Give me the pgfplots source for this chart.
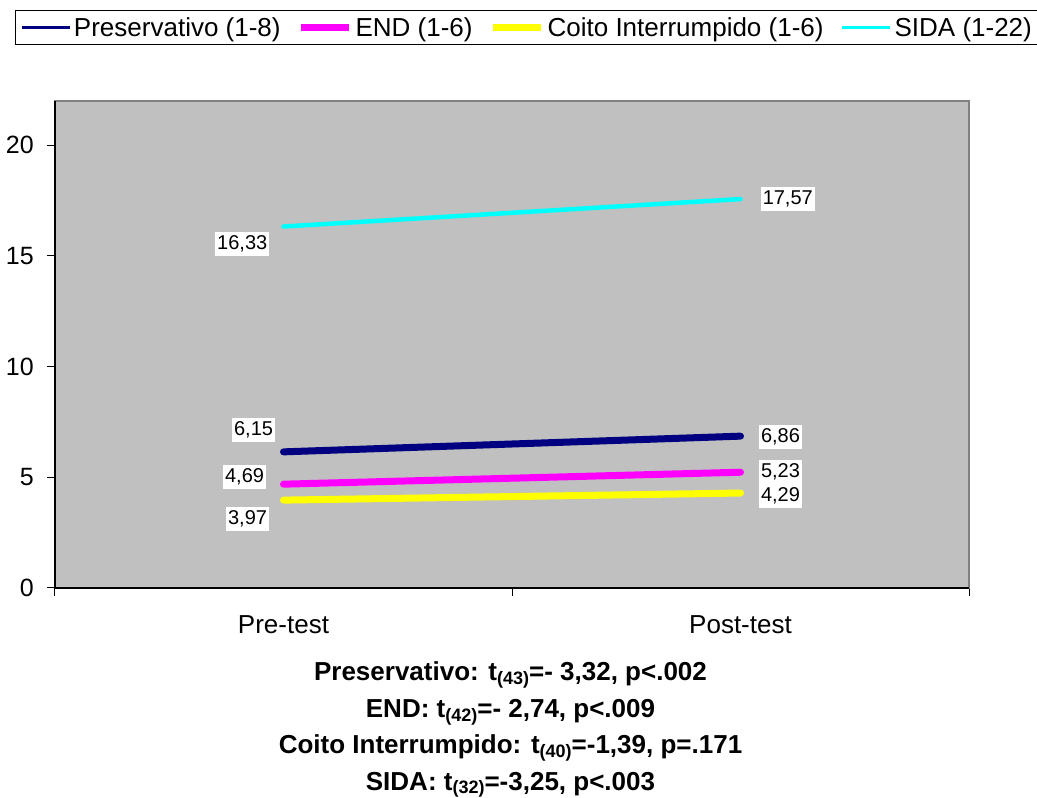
\documentclass[border=0pt]{standalone}
\usepackage{pgfplots}
\pgfplotsset{compat=1.18}
\usepackage{fontspec}
\setmainfont{Liberation Sans}
\definecolor{navyx}{RGB}{0,0,128}
\definecolor{magx}{RGB}{255,0,255}
\definecolor{yelx}{RGB}{255,255,0}
\definecolor{cyanx}{RGB}{0,255,255}
\definecolor{bgx}{RGB}{192,192,192}
\definecolor{brdx}{RGB}{128,128,128}
\newcommand\sub[1]{\raisebox{-3.5pt}{\fontsize{18}{18}\selectfont #1}}
\tikzset{lbl/.style={fill=white, draw=none, text=black, font=\fontsize{20}{24}\selectfont, inner xsep=2pt, inner ysep=4pt}}
\begin{document}
\begin{tikzpicture}
\useasboundingbox (-55pt,-210pt) rectangle (982pt,588pt);
\begin{axis}[
  at={(0pt,0pt)}, anchor=south west,
  width=914pt, height=487pt, scale only axis,
  xmin=0, xmax=2, ymin=0, ymax=22,
  axis background/.style={fill=bgx},
  axis line style={draw=brdx, line width=1.5pt},
  xtick={0,1,2}, xticklabels={},
  extra x ticks={0.5,1.5}, extra x tick labels={Pre-test,Post-test},
  extra x tick style={major tick length=0pt, tick style={draw=none}},
  ytick={0,5,10,15,20},
  xtick pos=bottom, ytick pos=left,
  tick align=outside, major tick length=8pt,
  tick style={black, line width=1pt},
  /pgf/number format/assume math mode=true,
  tick label style={font=\fontsize{25}{30}\selectfont},
  xticklabel style={font=\fontsize{26}{30}\selectfont, inner ysep=0pt, yshift=-27pt},
  yticklabel style={inner xsep=0pt, xshift=-13pt},
  legend columns=4,
  legend style={at={(-0.04376,1.1869)}, anchor=north west, draw=black, line width=1pt,
    font=\fontsize{26}{30}\selectfont, inner xsep=5pt, inner ysep=1pt,
    nodes={inner xsep=3pt, inner ysep=6pt},
    /tikz/every even column/.append style={column sep=14pt}},
  legend image code/.code={\draw[#1] (0pt,0pt) -- (48pt,0pt);},
]
\addplot[navyx, line width=7pt, line cap=round, forget plot] coordinates {(0.5,6.15) (1.5,6.86)}
  node[pos=0, lbl, anchor=south east, xshift=-5pt, yshift=6pt]{6,15}
  node[pos=1, lbl, anchor=west, xshift=15pt, yshift=-1pt]{6,86};
\addplot[magx, line width=7pt, line cap=round, forget plot] coordinates {(0.5,4.69) (1.5,5.23)}
  node[pos=0, lbl, anchor=east, xshift=-14pt, yshift=7pt]{4,69}
  node[pos=1, lbl, anchor=west, xshift=15pt, yshift=0pt]{5,23};
\addplot[yelx, line width=7pt, line cap=round, forget plot] coordinates {(0.5,3.97) (1.5,4.29)}
  node[pos=0, lbl, anchor=north east, xshift=-11pt, yshift=-3pt]{3,97}
  node[pos=1, lbl, anchor=west, xshift=15pt, yshift=-3pt]{4,29};
\addplot[cyanx, line width=4.5pt, line cap=round, forget plot] coordinates {(0.5,16.33) (1.5,17.57)}
  node[pos=0, lbl, anchor=north east, xshift=-12pt, yshift=-3pt]{16,33}
  node[pos=1, lbl, anchor=west, xshift=18pt, yshift=0pt]{17,57};
\addlegendimage{navyx, line width=2.5pt}
\addlegendentry{Preservativo (1-8)}
\addlegendimage{magx, line width=7pt}
\addlegendentry{END (1-6)}
\addlegendimage{yelx, line width=7pt}
\addlegendentry{Coito Interrumpido (1-6)}
\addlegendimage{cyanx, line width=3pt}
\addlegendentry{SIDA (1-22)}
\end{axis}
\draw[black, line width=1.5pt] (0pt,487pt) -- (0pt,0pt) -- (914pt,0pt);
\begin{scope}[every node/.style={anchor=base, font=\bfseries\fontsize{26}{30}\selectfont}]
\node at (455.5pt,-93pt) {Preservativo: t\sub{(43)}=- 3,32, p<.002};
\node at (455.5pt,-130pt) {END: t\sub{(42)}=- 2,74, p<.009};
\node at (455.5pt,-166pt) {Coito Interrumpido: t\sub{(40)}=-1,39, p=.171};
\node at (455.5pt,-202pt) {SIDA: t\sub{(32)}=-3,25, p<.003};
\end{scope}
\end{tikzpicture}
\end{document}
